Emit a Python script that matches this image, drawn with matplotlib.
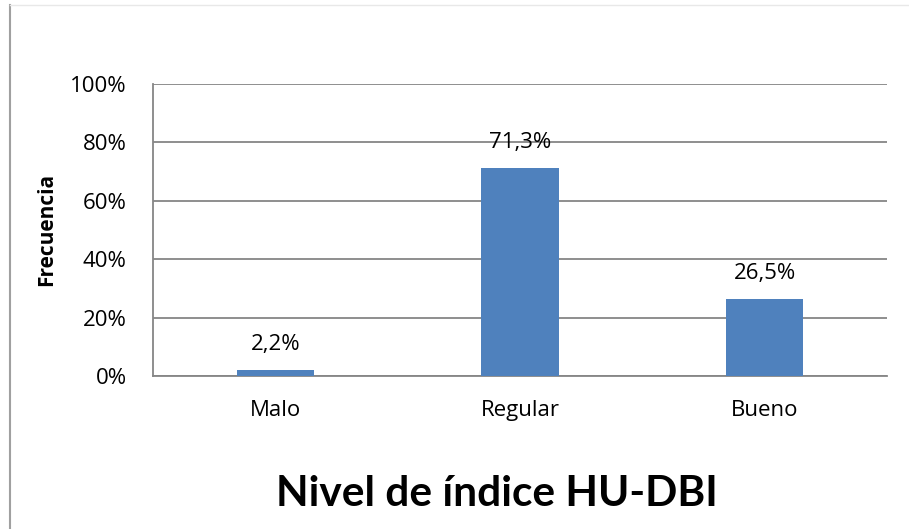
import matplotlib
matplotlib.use("Agg")
import matplotlib.pyplot as plt
from matplotlib.ticker import FuncFormatter
from matplotlib.lines import Line2D

categorias = ["Malo", "Regular", "Bueno"]
frecuencia = [2.2, 71.3, 26.5]
etiquetas = ["2,2%", "71,3%", "26,5%"]
yticks = [0, 20, 40, 60, 80, 100]

plt.rcParams['font.family'] = ['Open Sans', 'DejaVu Sans']

fig = plt.figure(figsize=(9.09, 5.29), dpi=100)
ax = fig.add_axes([153 / 909, 1 - 376 / 529, (887 - 153) / 909, (376 - 84) / 529])

x = range(len(categorias))
ax.bar(x, frecuencia, width=0.315, color="#4F81BD", zorder=3)
for xi, v, t in zip(x, frecuencia, etiquetas):
    ax.annotate(t, (xi, v), xytext=(0, 14.4), textcoords="offset points",
                ha="center", va="baseline", fontsize=16, color="#000000")

ax.set_xlim(-0.5, 2.5)
ax.set_ylim(0, 100)
ax.set_yticks(yticks)
ax.yaxis.set_major_formatter(FuncFormatter(lambda v, p: "%d%%" % v))
ax.set_xticks(list(x))
ax.set_xticklabels(categorias)
ax.tick_params(length=0, labelsize=16, colors="#000000")
ax.tick_params(axis="x", pad=17)
ax.tick_params(axis="y", pad=19)
ax.grid(axis="y", color="#868686", linewidth=1.3, zorder=0)
for s in ["top", "right"]:
    ax.spines[s].set_visible(False)
for s in ["left", "bottom"]:
    ax.spines[s].set_color("#868686")
    ax.spines[s].set_linewidth(1.3)

fig.text(47 / 909, 1 - 229 / 529, "Frecuencia", rotation=90, ha="center", va="center",
         fontsize=15, fontweight="bold")
fig.text(497 / 909, 1 - 506 / 529, "Nivel de índice HU-DBI", ha="center", va="baseline",
         fontsize=30.5, fontweight="bold", family=["Lato", "DejaVu Sans"])

# marco del gráfico
fig.add_artist(Line2D([10 / 909, 10 / 909], [0, 1 - 5 / 529], transform=fig.transFigure,
                      color="#a0a0a0", linewidth=1.5))
fig.add_artist(Line2D([10 / 909, 1], [1 - 5 / 529, 1 - 5 / 529], transform=fig.transFigure,
                      color="#e8e8e8", linewidth=1.0))

fig.savefig("out.png", dpi=100)
